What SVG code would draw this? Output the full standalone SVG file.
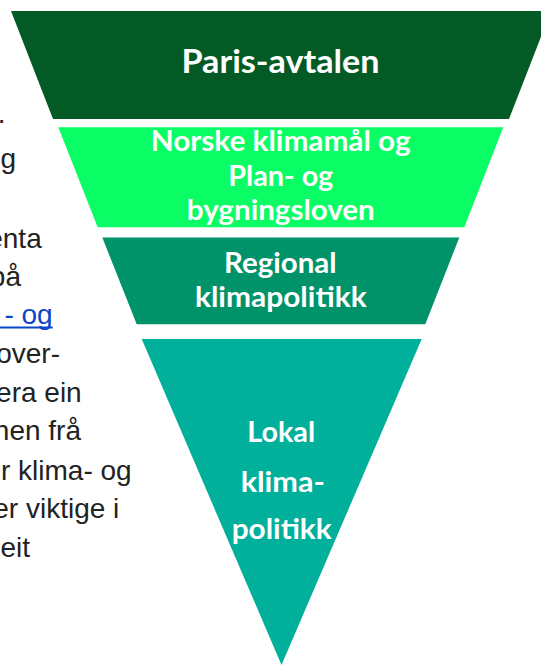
<svg xmlns="http://www.w3.org/2000/svg" width="541" height="665" viewBox="0 0 541 665">
<style>
.lbl{font-family:Lato,"Open Sans","Liberation Sans",sans-serif;font-weight:700;fill:#ffffff;text-anchor:middle}
.side{font-family:"Liberation Sans",Arial,sans-serif;font-size:28px;fill:#222222;text-anchor:end}
.link{fill:#0b45c9}
</style>
<rect width="541" height="665" fill="#ffffff"/>
<g id="side-text">
<text class="side" x="5.5" y="123">.</text>
<text class="side" x="16" y="168">g</text>
<text class="side" x="41.7" y="247.5">enta</text>
<text class="side" x="21" y="286">på</text>
<text class="side link" x="52.7" y="324">- og</text>
<line x1="0" y1="327.6" x2="52.7" y2="327.6" stroke="#0b45c9" stroke-width="2"/>
<text class="side" x="60" y="363">over-</text>
<text class="side" x="81.7" y="402">era ein</text>
<text class="side" x="81" y="440">nen frå</text>
<text class="side" x="131.7" y="480">r klima- og</text>
<text class="side" x="119.3" y="518">er viktige i</text>
<text class="side" x="30" y="557">eit</text>
</g>
<g id="paris">
<polygon points="11,11 551,11 509,119 53,119" fill="#035a24"/>
<text class="lbl" x="280.5" y="73" font-size="32" textLength="198" lengthAdjust="spacingAndGlyphs">Paris-avtalen</text>
</g>
<g id="norske">
<polygon points="58.3,127.3 503.3,127.3 464.3,227.3 97.7,227.3" fill="#0bfd66"/>
<text class="lbl" x="280.7" y="151" font-size="28" textLength="260" lengthAdjust="spacingAndGlyphs">Norske klimamål og</text>
<text class="lbl" x="280.8" y="185.5" font-size="28" textLength="105" lengthAdjust="spacingAndGlyphs">Plan- og</text>
<text class="lbl" x="280.8" y="220" font-size="28" textLength="188" lengthAdjust="spacingAndGlyphs">bygningsloven</text>
</g>
<g id="regional">
<polygon points="102.3,237.5 459.3,237.5 425.3,324.3 136.7,324.3" fill="#00936a"/>
<text class="lbl" x="280.3" y="273.3" font-size="28" textLength="112.7" lengthAdjust="spacingAndGlyphs">Regional</text>
<text class="lbl" x="280.8" y="307.3" font-size="28" textLength="171.7" lengthAdjust="spacingAndGlyphs">klimapolitikk</text>
</g>
<g id="lokal">
<polygon points="141.7,339 421.7,339 281.5,665" fill="#00b09b"/>
<text class="lbl" x="281.2" y="441.7" font-size="28" textLength="67.7" lengthAdjust="spacingAndGlyphs">Lokal</text>
<text class="lbl" x="282.8" y="491.7" font-size="28" textLength="84.3" lengthAdjust="spacingAndGlyphs">klima-</text>
<text class="lbl" x="281.7" y="539.3" font-size="28" textLength="100" lengthAdjust="spacingAndGlyphs">politikk</text>
</g>
<g id="connectors"></g>
</svg>
